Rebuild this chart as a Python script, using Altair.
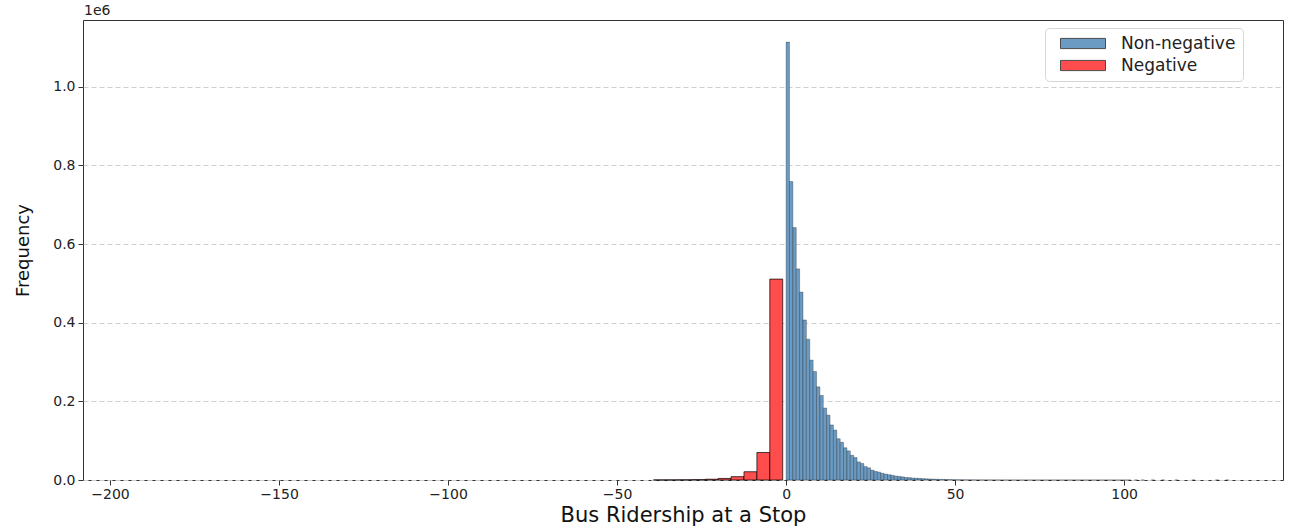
import altair as alt
import pandas as pd

# Non-negative ridership: counts per 1-rider bin, starting at 0
pos_start = 0
pos_width = 1
pos_counts = [
    1114000, 759000, 642000, 537000, 478000, 407000, 358000, 305000, 276000, 237000,
    215000, 183000, 165000, 140000, 127000, 105000, 96000, 82000, 74000, 63000,
    57000, 46000, 42000, 34000, 31000, 25000, 22000, 20000, 17000, 15000,
    13500, 12000, 10000, 9000, 8000, 6500, 6000, 5000, 4500, 4000,
    3500, 3000, 2700, 2300, 2000, 1700, 1500, 1200, 1000, 800,
    650, 560, 480, 410, 350, 300, 260, 220, 190, 160,
    140, 120, 100, 88, 76, 65, 56, 48, 41, 36,
    31, 27, 23, 20, 17, 15, 13, 11, 10, 9,
    8, 7, 6, 5, 5, 4, 4, 3, 3, 3,
    2, 2, 2, 2, 1, 1, 1, 1, 1, 1,
    1, 1, 0, 1, 0, 1, 0, 0, 1, 0,
    0, 1, 0, 0, 0, 1, 0, 0, 0, 0,
    1, 0, 0, 0, 0, 0, 0, 1, 0, 0, 1,
]

# Negative ridership: 50 equal-width bins between the minimum and -1
neg_lo = -192
neg_hi = -1
neg_counts = [
    0, 0, 0, 0, 0, 0, 0, 0, 0, 0,
    0, 0, 0, 0, 0, 0, 0, 0, 0, 0,
    0, 0, 0, 0, 0, 0, 0, 0, 0, 0,
    0, 0, 0, 0, 0, 0, 0, 0,
    0, 0, 200, 300, 500, 900, 2000, 4000, 8500, 21000, 70000, 511000,
]

groups = ["Non-negative", "Negative"]
colors = ["#6b9bc3", "#ff4d4d"]

x_ticks = [-200, -150, -100, -50, 0, 50, 100]
y_ticks = [0, 200000, 400000, 600000, 800000, 1000000]

pos_df = pd.DataFrame({
    "start": [pos_start + i * pos_width for i in range(len(pos_counts))],
    "count": pos_counts,
})
pos_df["end"] = pos_df["start"] + pos_width
pos_df["group"] = groups[0]

neg_width = (neg_hi - neg_lo) / len(neg_counts)
neg_df = pd.DataFrame({
    "start": [neg_lo + i * neg_width for i in range(len(neg_counts))],
    "count": neg_counts,
})
neg_df["end"] = neg_df["start"] + neg_width
neg_df["group"] = groups[1]

pos_df = pos_df[pos_df["count"] > 0]
neg_df = neg_df[neg_df["count"] > 0]

FONT = "DejaVu Sans"

x_enc = alt.X(
    "start:Q",
    scale=alt.Scale(domain=[-208, 147], nice=False, zero=False),
    axis=alt.Axis(
        values=x_ticks, title="Bus Ridership at a Stop", grid=False,
        labelFontSize=14, titleFontSize=21, titlePadding=3, labelPadding=2,
    ),
)
y_enc = alt.Y(
    "count:Q",
    scale=alt.Scale(domain=[0, 1170000], nice=False),
    axis=alt.Axis(
        values=y_ticks, title="Frequency", grid=True,
        gridDash=[5, 3], gridColor="#cfcfcf", gridWidth=1,
        labelExpr="format(datum.value / 1e6, '.1f')",
        labelFontSize=14, titleFontSize=18, titlePadding=20, labelPadding=3,
    ),
)
# Wide rectangular legend patches drawn from a custom symbol path
color_enc = alt.Color(
    "group:N",
    scale=alt.Scale(domain=groups, range=colors),
    legend=alt.Legend(
        title=None, orient="none", legendX=962, legendY=8,
        symbolType="M0,-0.85H7.5V0.85H0Z", symbolSize=144,
        symbolStrokeColor="#4a4a4a", symbolStrokeWidth=1, symbolOpacity=1,
        labelFontSize=17, labelFont=FONT, labelColor="#222222", labelOffset=52,
        rowPadding=4, padding=7, fillColor="white", strokeColor="#d6d6d6",
        cornerRadius=4,
    ),
)

pos_bars = alt.Chart(pos_df).mark_rect(
    stroke="black", strokeWidth=0.5, strokeOpacity=0.55
).encode(x=x_enc, x2="end:Q", y=y_enc, y2=alt.datum(0), color=color_enc)

neg_bars = alt.Chart(neg_df).mark_rect(
    stroke="black", strokeWidth=1, strokeOpacity=0.7
).encode(x=x_enc, x2="end:Q", y=y_enc, y2=alt.datum(0), color=color_enc)

offset_label = alt.Chart(pd.DataFrame({"t": ["1e6"]})).mark_text(
    align="left", baseline="bottom", font=FONT, fontSize=14, color="#222222"
).encode(x=alt.value(1), y=alt.value(-2), text="t:N")

chart = alt.layer(pos_bars, neg_bars, offset_label).properties(
    width=1200,
    height=460,
    autosize=alt.AutoSizeParams(type="none"),
    padding={"left": 83, "top": 20, "right": 9, "bottom": 49},
).configure_view(
    stroke="#333333", strokeWidth=1
).configure_axis(
    labelFont=FONT, titleFont=FONT, labelColor="#222222", titleColor="#111111",
    titleFontWeight="normal", domain=False, tickColor="#333333", tickSize=5,
    tickWidth=1,
)

chart.save("out.html", embed_options={"renderer": "svg", "actions": False})
